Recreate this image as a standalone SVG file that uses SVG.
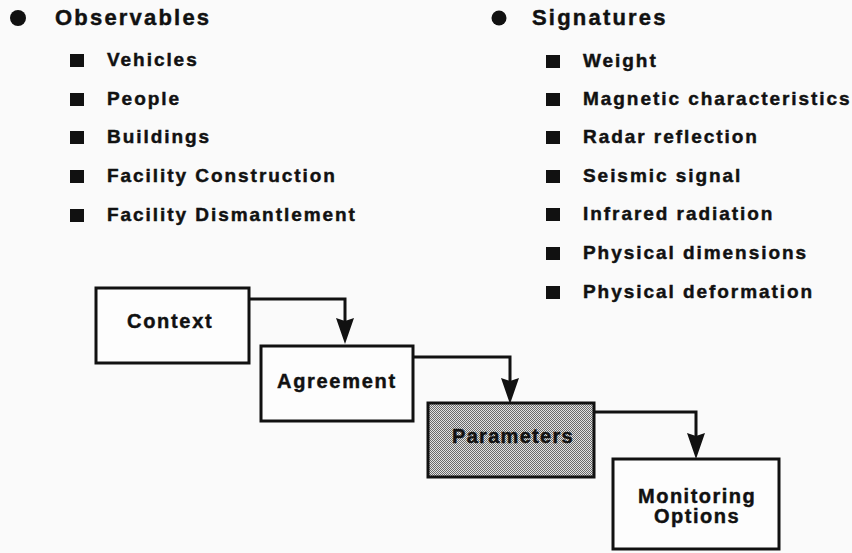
<svg xmlns="http://www.w3.org/2000/svg" width="852" height="553" viewBox="0 0 852 553">
<style>
text{font-family:"Liberation Sans",Arial,sans-serif;font-weight:bold;fill:#111;stroke:#111;stroke-width:0.45px}
.h{font-size:22px;letter-spacing:2.2px}
.i{font-size:19px;letter-spacing:1.95px}
.b{font-size:20px;letter-spacing:1.7px}
.box{fill:#fdfdfd;stroke:#111;stroke-width:3}
.sq{fill:#111}
.con{fill:none;stroke:#111;stroke-width:3}
.ah{fill:#111}
</style>
<defs>
<pattern id="dots" width="2" height="2" patternUnits="userSpaceOnUse">
<rect width="2" height="2" fill="#e2e2e2"/>
<rect width="1" height="1" fill="#6a6a6a"/>
<rect x="1" y="1" width="1" height="1" fill="#6a6a6a"/>
</pattern>
</defs>
<rect width="852" height="553" fill="#fafafa"/>
<g id="observables">
<circle cx="18" cy="18" r="8" fill="#111"/>
<text class="h" x="55" y="25">Observables</text>
<rect class="sq" x="70" y="54" width="14" height="13"/><text class="i" x="107" y="66">Vehicles</text>
<rect class="sq" x="70" y="93" width="14" height="13"/><text class="i" x="107" y="105">People</text>
<rect class="sq" x="70" y="131" width="14" height="13"/><text class="i" x="107" y="143">Buildings</text>
<rect class="sq" x="70" y="170" width="14" height="13"/><text class="i" x="107" y="182">Facility Construction</text>
<rect class="sq" x="70" y="209" width="14" height="13"/><text class="i" x="107" y="221">Facility Dismantlement</text>
</g>
<g id="signatures">
<circle cx="499" cy="18" r="7.5" fill="#111"/>
<text class="h" x="532" y="25">Signatures</text>
<rect class="sq" x="546" y="55" width="14" height="13"/><text class="i" x="583" y="67">Weight</text>
<rect class="sq" x="546" y="93" width="14" height="13"/><text class="i" x="583" y="105">Magnetic characteristics</text>
<rect class="sq" x="546" y="131" width="14" height="13"/><text class="i" x="583" y="143">Radar reflection</text>
<rect class="sq" x="546" y="170" width="14" height="13"/><text class="i" x="583" y="182">Seismic signal</text>
<rect class="sq" x="546" y="208" width="14" height="13"/><text class="i" x="583" y="220">Infrared radiation</text>
<rect class="sq" x="546" y="247" width="14" height="13"/><text class="i" x="583" y="259">Physical dimensions</text>
<rect class="sq" x="546" y="286" width="14" height="13"/><text class="i" x="583" y="298">Physical deformation</text>
</g>
<g id="connectors">
<path class="con" d="M249 299 H345 V322"/>
<path class="ah" d="M336 318 L345 321 L354 318 L345 344 Z"/>
<path class="con" d="M413 357 H510 V382"/>
<path class="ah" d="M501 378 L510 381 L519 378 L510 404 Z"/>
<path class="con" d="M594 412 H696 V437"/>
<path class="ah" d="M687 433 L696 436 L705 433 L696 459 Z"/>
</g>
<g id="context">
<rect class="box" x="96" y="288" width="153" height="75"/>
<text class="b" x="127" y="328">Context</text>
</g>
<g id="agreement">
<rect class="box" x="261" y="346" width="152" height="75"/>
<text class="b" x="277" y="388">Agreement</text>
</g>
<g id="parameters">
<rect x="428" y="403" width="166" height="74" fill="url(#dots)" stroke="#111" stroke-width="3"/>
<text class="b" x="452" y="443" style="letter-spacing:1.3px">Parameters</text>
</g>
<g id="monitoring">
<rect class="box" x="613" y="459" width="166" height="90"/>
<text class="b" x="638" y="503" style="letter-spacing:1.5px">Monitoring</text>
<text class="b" x="654" y="523" style="letter-spacing:1.5px">Options</text>
</g>
</svg>
